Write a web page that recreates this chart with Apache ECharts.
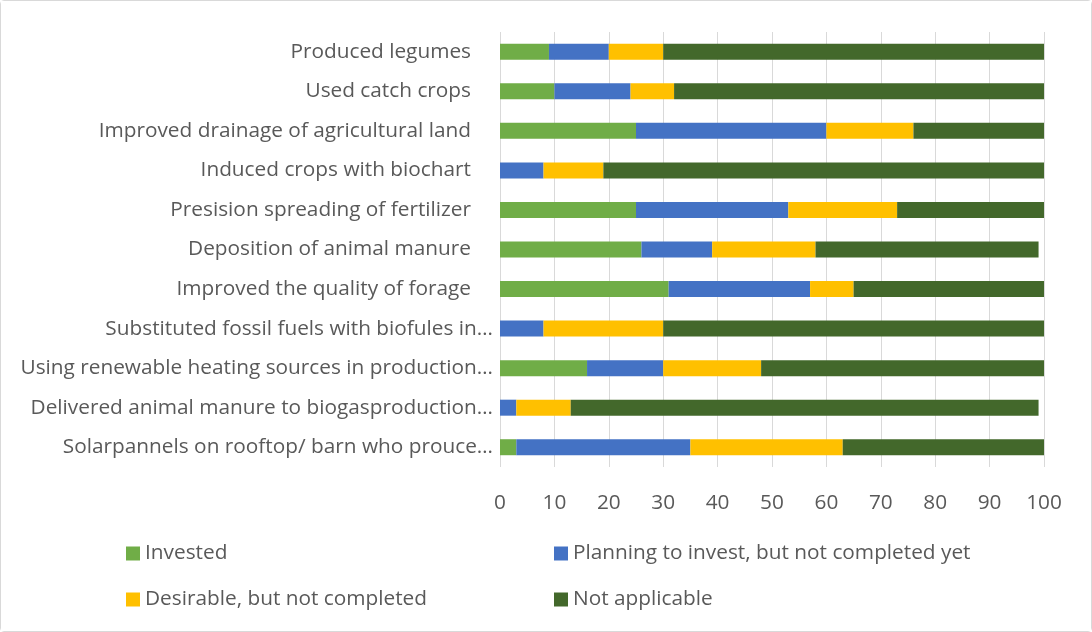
<!DOCTYPE html>
<html>
<head>
<meta charset="utf-8">
<script src="https://cdn.jsdelivr.net/npm/echarts@6/dist/echarts.min.js"></script>
<style>
  html, body { margin: 0; padding: 0; background: #fff; }
  .chart-card {
    width: 1092px;
    height: 632px;
    box-sizing: border-box;
    border: 1px solid #d9d9d9;
    border-radius: 4px;
    background: #fff;
  }
  #chart { width: 1090px; height: 630px; }
</style>
</head>
<body>
<div class="chart-card"><div id="chart"></div></div>
<script>
// categories, top to bottom
const categories = [
  'Produced legumes',
  'Used catch crops',
  'Improved drainage of agricultural land',
  'Induced crops with biochart',
  'Presision spreading of fertilizer',
  'Deposition of animal manure',
  'Improved the quality of forage',
  'Substituted fossil fuels with biofules in…',
  'Using renewable heating sources in production…',
  'Delivered animal manure to biogasproduction…',
  'Solarpannels on rooftop/ barn who prouce…'
];

const invested      = [9, 10, 25, 0, 25, 26, 31, 0, 16, 0, 3];
const planning      = [11, 14, 35, 8, 28, 13, 26, 8, 14, 3, 32];
const desirable     = [10, 8, 16, 11, 20, 19, 8, 22, 18, 10, 28];
const notApplicable = [70, 68, 24, 81, 27, 41, 35, 70, 52, 86, 37];

const xTicks = [0, 10, 20, 30, 40, 50, 60, 70, 80, 90, 100];

const font = '"Open Sans", sans-serif';
const fontSize = 20.8;
const textColor = '#595959';

const chartInstance = echarts.init(document.getElementById('chart'));

const makeSeries = (name, data, color) => ({
  name,
  type: 'bar',
  stack: 'total',
  barWidth: 16,
  data,
  itemStyle: { color },
  emphasis: { disabled: true }
});

const legendBase = {
  orient: 'vertical',
  top: 537,
  itemWidth: 14,
  itemHeight: 14,
  itemGap: 25,
  icon: 'rect',
  textStyle: { color: textColor, fontSize, fontFamily: font }
};

const option = {
  backgroundColor: '#fff',
  animation: false,
  grid: {
    left: 499,
    right: 47,
    top: 31,
    bottom: 164,
    containLabel: false
  },
  xAxis: {
    type: 'value',
    min: xTicks[0],
    max: xTicks[xTicks.length - 1],
    interval: 10,
    axisLine: { show: false },
    axisTick: { show: false },
    splitLine: { lineStyle: { color: '#d9d9d9', width: 1 } },
    axisLabel: {
      color: textColor,
      fontSize,
      fontFamily: font,
      margin: 26
    }
  },
  yAxis: {
    type: 'category',
    inverse: true,
    data: categories,
    axisLine: { show: false },
    axisTick: { show: false },
    axisLabel: {
      margin: 7,
      formatter: (v) => v.endsWith('…') ? '{e|' + v + '}' : '{n|' + v + '}',
      rich: {
        e: { color: textColor, fontSize, fontFamily: font },
        n: { color: textColor, fontSize, fontFamily: font, padding: [0, 22, 0, 0] }
      }
    }
  },
  legend: [
    { ...legendBase, left: 120, data: ['Invested', 'Desirable, but not completed'] },
    { ...legendBase, left: 548, data: ['Planning to invest, but not completed yet', 'Not applicable'] }
  ],
  series: [
    makeSeries('Invested', invested, '#70ad47'),
    makeSeries('Planning to invest, but not completed yet', planning, '#4472c4'),
    makeSeries('Desirable, but not completed', desirable, '#ffc000'),
    makeSeries('Not applicable', notApplicable, '#43682b')
  ]
};

chartInstance.setOption(option);
</script>
</body>
</html>
